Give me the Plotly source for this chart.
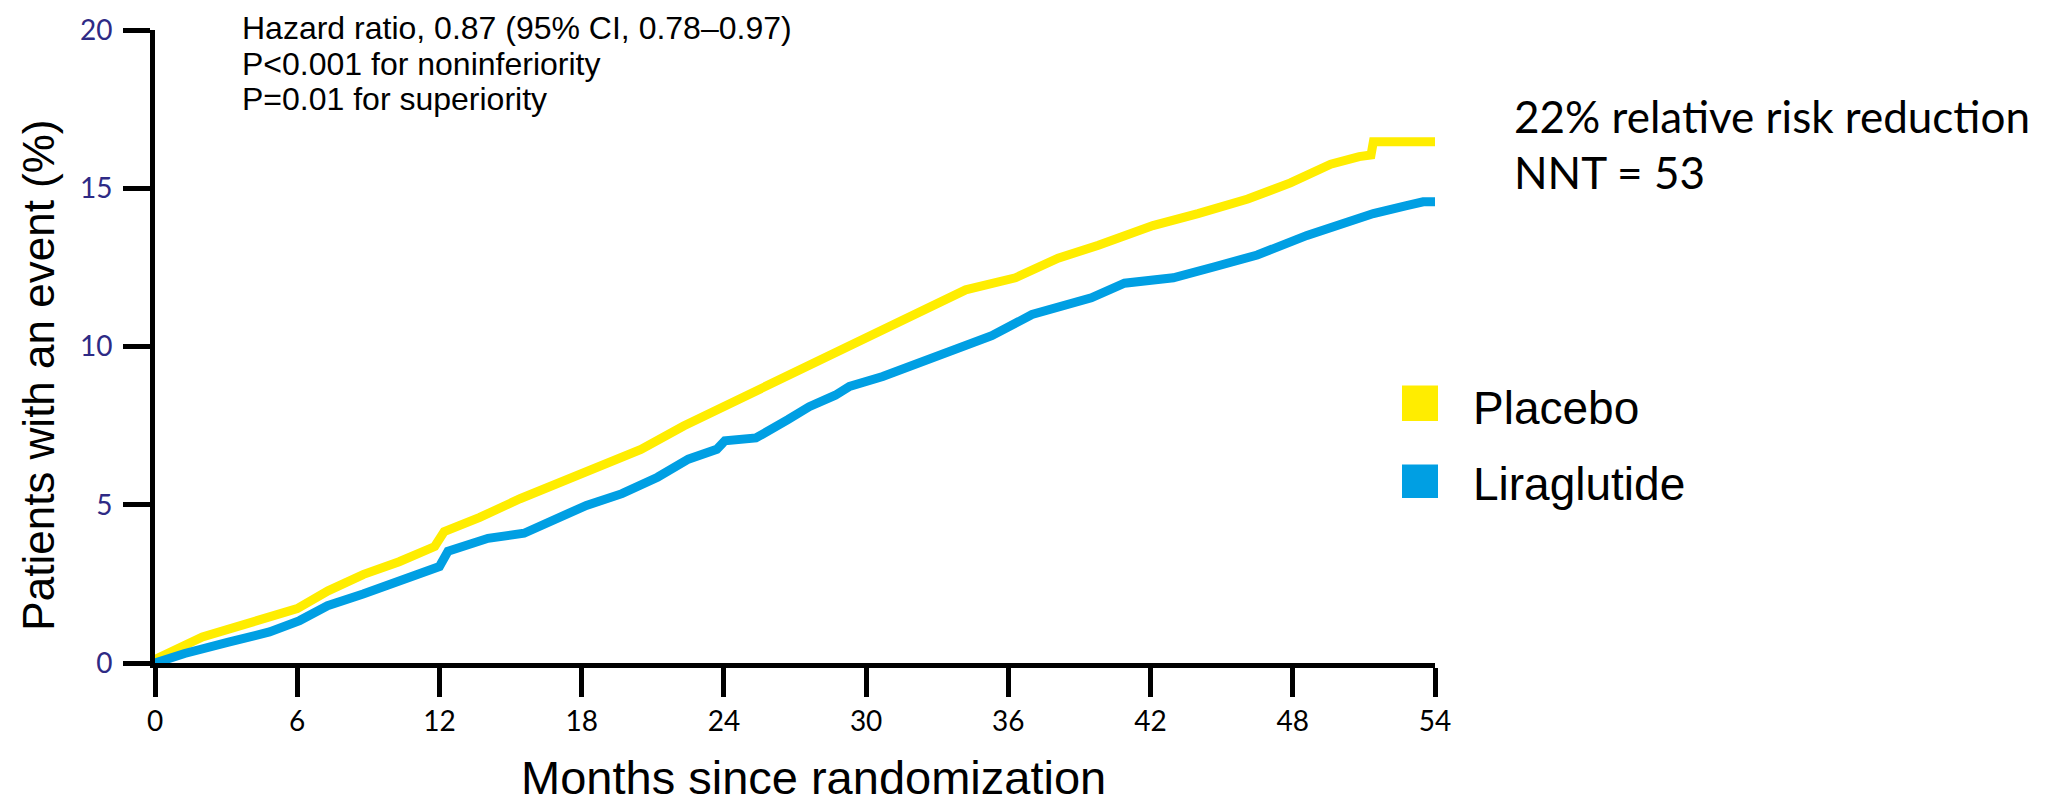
import plotly.graph_objects as go

# ---------------- data ----------------
series_names = ["Placebo", "Liraglutide"]

placebo_months = [0, 0.1, 2.0, 3.7, 5.0, 6.0, 7.3, 8.8, 10.3, 11.4, 11.8, 12.2, 13.7,
                  15.4, 17.45, 18.95, 20.5, 22.3, 24.0, 26.1, 27.6, 28.97, 30.7, 32.1,
                  34.2, 36.3, 38.1, 39.8, 42.1, 44.0, 46.1, 47.9, 49.6, 50.8, 51.3,
                  51.4, 54.0]
placebo_pct = [0, 0.15, 0.82, 1.19, 1.5, 1.72, 2.28, 2.8, 3.2, 3.53, 3.68, 4.15, 4.6,
               5.19, 5.81, 6.24, 6.75, 7.49, 8.11, 8.83, 9.4, 9.87, 10.55, 11.01,
               11.79, 12.17, 12.79, 13.2, 13.82, 14.2, 14.66, 15.17, 15.76, 16.0, 16.05,
               16.47, 16.47]

lira_months = [0, 1.25, 3.1, 4.83, 6.1, 7.28, 8.78, 10.3, 11.6, 12.0, 12.36, 14.05,
               15.57, 16.7, 18.2, 19.7, 21.2, 22.5, 23.7, 24.04, 25.35, 26.7, 27.6,
               28.7, 29.3, 30.7, 33.2, 35.3, 37.0, 39.5, 40.9, 42.96, 44.7, 46.5, 48.6,
               50.0, 51.4, 52.8, 53.5, 54.0]
lira_pct = [0, 0.3, 0.66, 0.98, 1.34, 1.81, 2.18, 2.59, 2.96, 3.05, 3.53, 3.94,
            4.1, 4.46, 4.98, 5.35, 5.87, 6.44, 6.75, 7.02, 7.11, 7.69, 8.1,
            8.46, 8.74, 9.05, 9.77, 10.34, 11.01, 11.54, 12.0, 12.17, 12.52, 12.89, 13.51,
            13.88, 14.2, 14.45, 14.57, 14.57]

x_ticks = [0, 6, 12, 18, 24, 30, 36, 42, 48, 54]
y_ticks = [0, 5, 10, 15, 20]

x_title = "Months since randomization"
y_title = "Patients with an event (%)"
stats_lines = ["Hazard ratio, 0.87 (95% CI, 0.78\u20130.97)",
               "P<0.001 for noninferiority",
               "P=0.01 for superiority"]
summary_lines = ["22% relative risk reduction", "NNT = 53"]

# ---------------- styles ----------------
COL_PLACEBO = "#FFED00"
COL_LIRA = "#009FE3"
TICK_Y_COLOR = "#2E2A85"
ARIAL = "Liberation Sans, Arial, sans-serif"
CALIBRI = "Lato, Carlito, sans-serif"

W, H = 2059, 806
L, R, T, B = 155, 1435, 22, 663  # plot area in pixels


def px(xp):
    return (xp - L) / (R - L)


def py(yp):
    return (B - yp) / (B - T)


fig = go.Figure()
fig.add_trace(go.Scatter(x=placebo_months, y=placebo_pct, mode="lines",
                         name=series_names[0],
                         line=dict(color=COL_PLACEBO, width=9)))
fig.add_trace(go.Scatter(x=lira_months, y=lira_pct, mode="lines",
                         name=series_names[1],
                         line=dict(color=COL_LIRA, width=9)))

axis_common = dict(showgrid=False, zeroline=False, showline=True, linecolor="black",
                   linewidth=5, ticks="outside", tickwidth=5, tickcolor="black",
                   mirror=False)

fig.update_xaxes(range=[0, 54], tickvals=x_ticks, ticklen=29,
                 tickfont=dict(family=CALIBRI, size=28, color="black"),
                 **axis_common)
fig.update_yaxes(range=[0, 20], tickvals=y_ticks, ticklen=27, ticklabelstandoff=5,
                 tickfont=dict(family=CALIBRI, size=28, color=TICK_Y_COLOR),
                 **axis_common)

annotations = []
# axis titles
annotations.append(dict(text=x_title, x=px(813), y=py(779), xref="paper", yref="paper",
                        xanchor="center", yanchor="middle", showarrow=False,
                        font=dict(family=ARIAL, size=47, color="black")))
annotations.append(dict(text=y_title, x=px(39), y=py(372), xref="paper", yref="paper",
                        xanchor="center", yanchor="middle", showarrow=False,
                        textangle=-90,
                        font=dict(family=ARIAL, size=44, color="black")))

for txt, yc in zip(stats_lines, [20, 56, 92]):
    annotations.append(dict(text=txt, x=px(240), y=py(yc), xref="paper", yref="paper",
                            xanchor="left", yanchor="middle", showarrow=False,
                            font=dict(family=ARIAL, size=32, color="black")))
for txt, yc in zip(summary_lines, [109, 166]):
    annotations.append(dict(text=txt, x=px(1512), y=py(yc), xref="paper", yref="paper",
                            xanchor="left", yanchor="middle", showarrow=False,
                            font=dict(family=CALIBRI, size=44, color="black")))

shapes = []
for name, col, (y0, y1), yc in zip(series_names, [COL_PLACEBO, COL_LIRA],
                                   [(382, 418), (462, 496)], [405, 482]):
    shapes.append(dict(type="rect", xref="paper", yref="paper",
                       x0=px(1402), x1=px(1438), y0=py(y1), y1=py(y0),
                       fillcolor=col, line=dict(width=0)))
    annotations.append(dict(text=name, x=px(1471), y=py(yc), xref="paper", yref="paper",
                            xanchor="left", yanchor="middle", showarrow=False,
                            font=dict(family=ARIAL, size=46, color="black")))

fig.update_layout(width=W, height=H,
                  margin=dict(l=L, r=W - R, t=T, b=H - B, pad=0),
                  paper_bgcolor="white", plot_bgcolor="white",
                  showlegend=False, annotations=annotations, shapes=shapes)

fig.write_html("out.html")
